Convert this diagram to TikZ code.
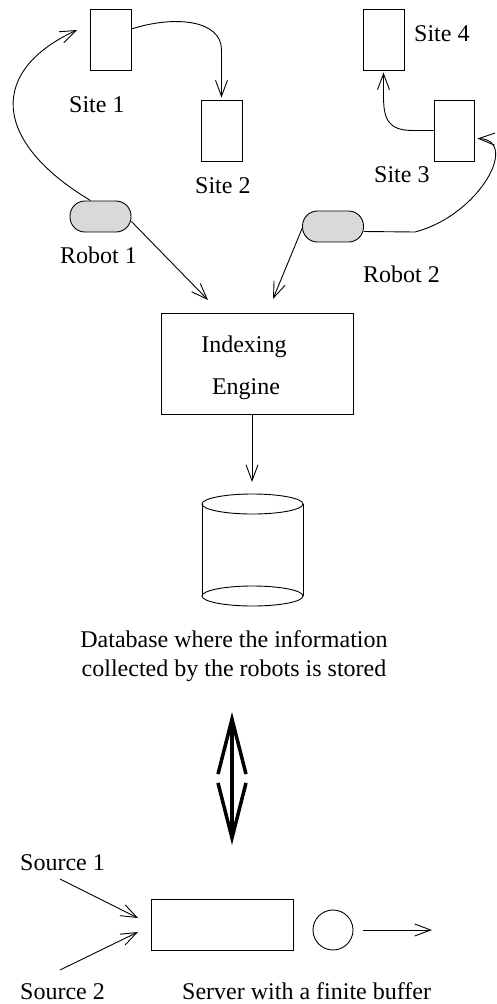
\documentclass[tikz,border=0pt]{standalone}
\usepackage{fontspec}
\setmainfont{Liberation Serif}
\usetikzlibrary{arrows.meta}
\begin{document}
\begin{tikzpicture}[x=1pt,y=-1pt,
  thinline/.style={line width=0.9pt},
  sitebox/.style={draw, line width=0.9pt, minimum width=41pt, minimum height=61pt, inner sep=0pt},
  robot/.style={draw, line width=0.9pt, fill=gray!30, rounded corners=15pt, minimum width=61pt, minimum height=31pt, inner sep=0pt},
  lab/.style={anchor=base west, inner sep=0pt, font=\fontsize{24}{29}\selectfont},
  clab/.style={anchor=base, inner sep=0pt, font=\fontsize{24}{29}\selectfont},
  conn/.style={line width=0.9pt, -{Straight Barb[length=16pt,width=12pt]}},
]
\useasboundingbox (0,0) rectangle (496,1004);

% sites
\node[sitebox] (s1) at (110.5,39.5) {};
\node[sitebox] (s2) at (221.5,130.5) {};
\node[sitebox] (s4) at (383.5,39.5) {};
\node[sitebox, minimum width=40pt] (s3) at (454,130.5) {};

% robots
\node[robot] (r1) at (100.5,216.5) {};
\node[robot] (r2) at (333,226.5) {};

% engine
\node[draw, thinline, minimum width=192pt, minimum height=101pt, inner sep=0pt] (eng) at (257,363.5) {};
\node[clab] (engA) at (244,352) {Indexing};
\node[clab] (engB) at (246,394) {Engine};

% database
\node[minimum width=101pt, minimum height=112pt, inner sep=0pt] (db) at (252.5,550) {};
\draw[thinline] (202,504) -- (202,596) (303,504) -- (303,596);
\draw[thinline] (252.5,504) ellipse [x radius=50.5pt, y radius=10pt];
\draw[thinline] (252.5,596) ellipse [x radius=50.5pt, y radius=10pt];
\node[clab] (dbA) at (234,647) {Database where the information};
\node[clab] (dbB) at (234,676) {collected by the robots is stored};

% labels
\node[lab] (l1) at (69,112) {Site 1};
\node[lab] (l2) at (195,193) {Site 2};
\node[lab] (l3) at (374,182) {Site 3};
\node[lab] (l4) at (414,41) {Site 4};
\node[lab] (lr1) at (60,263) {Robot 1};
\node[lab] (lr2) at (363,282) {Robot 2};

% coordinates for free ends
\coordinate (t1) at (77,30);
\coordinate (e1) at (208,300);
\coordinate (e2) at (273,299);
\coordinate (dtop) at (252,482);
\coordinate (bigT) at (232,712);
\coordinate (bigB) at (232,845);

% connectors top
\draw[conn] ([xshift=-10pt]r1.north) .. controls (-10,140) and (-10,70) .. (t1);
\draw[conn] ([yshift=10.5pt]s1.east) .. controls (175,15) and (221.5,20) .. (221.5,50) -- ([yshift=2pt]s2.north);
\draw[conn] ([yshift=-5pt]r1.east) -- (e1);
\draw[conn] ([yshift=-2pt]r2.west) -- (e2);
\draw[conn] ([yshift=-5pt]r2.east) -- (415,232) .. controls (480,215) and (520,140) .. ([xshift=3pt,yshift=-8pt]s3.east);
\draw[conn] (s3.west) -- (413,130.5) .. controls (387,130.5) and (383.5,118) .. (383.5,95) -- ([yshift=-2pt]s4.south);
\draw[conn] ([xshift=-5pt]eng.south) -- (dtop);

% big double arrow
\draw[line width=3.5pt, {Straight Barb[length=55pt,width=28pt]}-{Straight Barb[length=55pt,width=28pt]}] (bigT) -- (bigB);

% queue
\node[draw, thinline, minimum width=142pt, minimum height=51pt, inner sep=0pt] (q) at (222,924.5) {};
\node[draw, thinline, circle, minimum size=40pt, inner sep=0pt] (srv) at (333,930) {};
\coordinate (qin1) at (138,918);
\coordinate (qin2) at (138,932);
\coordinate (a1) at (60,879);
\coordinate (a2) at (60,970);
\coordinate (out) at (432,930);
\draw[conn] (a1) -- (qin1);
\draw[conn] (a2) -- (qin2);
\draw[conn, shorten <=10pt] (srv.east) -- (out);

\node[lab] (src1) at (20,870) {Source 1};
\node[lab] (src2) at (20,999) {Source 2};
\node[lab] (srvlab) at (182,999) {Server with a finite buffer};
\end{tikzpicture}
\end{document}
